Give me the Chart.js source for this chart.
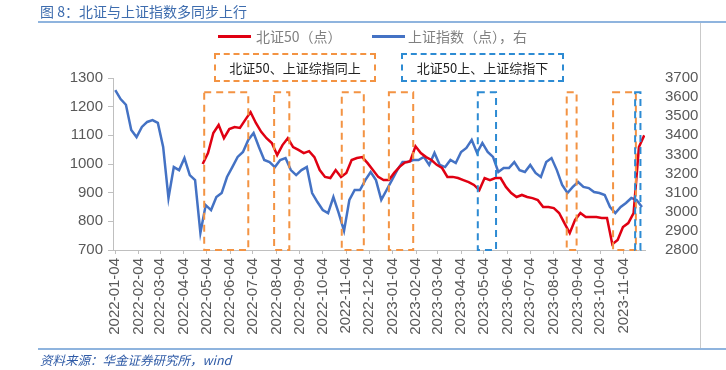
<!DOCTYPE html>
<html>
<head>
<meta charset="utf-8">
<script src="https://cdn.jsdelivr.net/npm/chart.js@4.4.0/dist/chart.umd.min.js"></script>
<style>
  body { margin: 0; background: #fff; }
  #wrap { position: relative; width: 726px; height: 370px; background: #fff; overflow: hidden; }
  #c { position: absolute; left: 0; top: 0; }
  .abs { position: absolute; white-space: nowrap; }
  .cjk { font-family: "Noto Sans CJK SC", "Noto Sans", sans-serif; }
  .tag { position: absolute; box-sizing: border-box; height: 29px; border: 2px dashed; text-align: center;
         font: 13px "Noto Sans CJK SC", sans-serif; line-height: 25px; color: #222; }
</style>
</head>
<body>
<div id="wrap">
  <canvas id="c" width="726" height="370"></canvas>

  <div class="abs cjk" style="left:40px;top:2px;font-size:14px;line-height:18px;color:#3d6cae;">图 8：北证与上证指数多同步上行</div>
  <div class="abs" style="left:38px;top:21px;width:688px;height:2px;background:#8fb4de;"></div>
  <div class="abs" style="left:700px;top:23px;width:1px;height:325px;background:#c9c9c9;"></div>
  <div class="abs" style="left:38px;top:348px;width:688px;height:2px;background:#8fb4de;"></div>
  <div class="abs cjk" style="left:40px;top:352px;font-size:12.5px;line-height:16px;font-style:italic;color:#2e5aa6;">资料来源：华金证券研究所，wind</div>

  <!-- legend -->
  <div class="abs" style="left:218px;top:35px;width:33px;height:3px;background:#e00012;"></div>
  <div class="abs cjk" style="left:256px;top:27px;font-size:14px;line-height:18px;color:#808080;">北证50（点）</div>
  <div class="abs" style="left:372px;top:35px;width:33px;height:3px;background:#4472c4;"></div>
  <div class="abs cjk" style="left:408px;top:27px;font-size:14px;line-height:18px;color:#808080;">上证指数（点），右</div>

  <!-- boxes above the plot -->
  <div class="tag" style="left:214px;top:53px;width:162px;border-color:#f39343;">北证50、上证综指同上</div>
  <div class="tag" style="left:401px;top:53px;width:163px;border-color:#2d8bd3;">北证50上、上证综指下</div>
</div>

<script>
// x positions are calendar days since 2022-01-04
const baseDate = "2022-01-04";

const tickLabels = [
  "2022-01-04", "2022-02-04", "2022-03-04", "2022-04-04", "2022-05-04", "2022-06-04",
  "2022-07-04", "2022-08-04", "2022-09-04", "2022-10-04", "2022-11-04", "2022-12-04",
  "2023-01-04", "2023-02-04", "2023-03-04", "2023-04-04", "2023-05-04", "2023-06-04",
  "2023-07-04", "2023-08-04", "2023-09-04", "2023-10-04", "2023-11-04"
];

// 北证50, weekly from 2022-04-29
const bseStart = "2022-04-29";
const bse50 = [
  1000, 1038, 1108, 1136, 1090, 1122, 1129, 1126, 1154, 1181,
  1143, 1112, 1090, 1073, 1031, 1066, 1090, 1059, 1049, 1038,
  1045, 1024, 979, 955, 951, 979, 955, 969, 1014, 1021,
  1024, 1003, 979, 955, 944, 944, 969, 990, 1005, 1010,
  1062, 1038, 1024, 1014, 997, 986, 955, 955, 951, 944,
  937, 927, 909, 951, 944, 951, 951, 920, 899, 885,
  892, 885, 881, 874, 850, 850, 846, 829, 794, 759,
  805, 829, 815, 815, 815, 812, 812, 720, 735, 780,
  794, 829, 1059, 1100
];

// 上证指数, weekly from 2022-01-04
const shStart = "2022-01-04";
const shIndex = [
  3637, 3590, 3560, 3428, 3391, 3444, 3470, 3480, 3465, 3339,
  3072, 3234, 3218, 3281, 3192, 3166, 2890, 3035, 3009, 3077,
  3098, 3182, 3234, 3287, 3313, 3376, 3412, 3339, 3271, 3260,
  3234, 3271, 3281, 3218, 3192, 3218, 3234, 3098, 3051, 3009,
  2993, 3077, 2993, 2900, 3062, 3114, 3114, 3166, 3208, 3166,
  3062, 3114, 3166, 3218, 3260, 3260, 3271, 3271, 3287, 3245,
  3308, 3245, 3234, 3271, 3255, 3313, 3334, 3376, 3308, 3360,
  3313, 3287, 3208, 3229, 3229, 3260, 3218, 3208, 3245, 3203,
  3182, 3260, 3281, 3218, 3140, 3098, 3130, 3156, 3130, 3124,
  3103, 3098, 3088, 3025, 2993, 3025, 3046, 3072, 3062, 3025
];

// highlighted periods: [from, to, kind]
const periods = [
  ["2022-05-01", "2022-06-28", "same"],
  ["2022-08-01", "2022-08-21", "same"],
  ["2022-10-29", "2022-11-27", "same"],
  ["2022-12-30", "2023-01-31", "same"],
  ["2023-04-26", "2023-05-20", "diff"],
  ["2023-08-21", "2023-09-03", "same"],
  ["2023-10-21", "2023-11-20", "same"],
  ["2023-11-19", "2023-11-26", "diff"]
];

function dayOf(s) {
  const p = s.split("-").map(Number);
  const b = baseDate.split("-").map(Number);
  return (Date.UTC(p[0], p[1] - 1, p[2]) - Date.UTC(b[0], b[1] - 1, b[2])) / 86400000;
}

const tickDays = tickLabels.map(dayOf);
const labelByDay = {};
tickDays.forEach((d, i) => { labelByDay[d] = tickLabels[i]; });

const bsePoints = bse50.map((v, i) => ({ x: dayOf(bseStart) + 7 * i, y: v }));
const shPoints = shIndex.map((v, i) => ({ x: dayOf(shStart) + 7 * i, y: v }));

const gray = "#595959";
const axisGray = "#bfbfbf";

const periodBoxes = {
  id: "periodBoxes",
  afterDatasetsDraw(chart) {
    const ctx = chart.ctx;
    const xs = chart.scales.x, ys = chart.scales.y;
    ctx.save();
    ctx.lineWidth = 2;
    ctx.setLineDash([7, 5]);
    periods.forEach(p => {
      const x1 = xs.getPixelForValue(dayOf(p[0]));
      const x2 = xs.getPixelForValue(dayOf(p[1]));
      const y1 = ys.getPixelForValue(1250);
      const y2 = ys.getPixelForValue(700);
      ctx.strokeStyle = p[2] === "same" ? "#f39343" : "#2d8bd3";
      ctx.strokeRect(x1, y1, x2 - x1, y2 - y1);
    });
    ctx.restore();
  }
};

Chart.defaults.font.family = "'Liberation Sans', Arial, sans-serif";

new Chart(document.getElementById("c"), {
  type: "line",
  data: {
    datasets: [
      {
        label: "北证50（点）",
        data: bsePoints,
        yAxisID: "y",
        borderColor: "#e00012",
        borderWidth: 2.5,
        pointRadius: 0,
        tension: 0
      },
      {
        label: "上证指数（点），右",
        data: shPoints,
        yAxisID: "y1",
        borderColor: "#4472c4",
        borderWidth: 2.5,
        pointRadius: 0,
        tension: 0
      }
    ]
  },
  options: {
    responsive: false,
    animation: false,
    layout: { padding: { top: 78, left: 0, right: 0, bottom: 0 } },
    plugins: { legend: { display: false }, tooltip: { enabled: false } },
    scales: {
      x: {
        type: "linear",
        min: -3,
        max: 697,
        afterBuildTicks: axis => { axis.ticks = tickDays.map(d => ({ value: d })); },
        afterFit: axis => { axis.height = 120; },
        grid: { drawOnChartArea: false, drawTicks: true, tickLength: 4, color: axisGray },
        border: { display: true, color: axisGray },
        ticks: {
          autoSkip: false,
          minRotation: 90,
          maxRotation: 90,
          padding: 4,
          color: gray,
          font: { size: 15 },
          callback: v => labelByDay[v] || ""
        }
      },
      y: {
        position: "left",
        min: 700,
        max: 1300,
        afterFit: axis => { axis.width = 113; },
        grid: { drawOnChartArea: false, tickLength: 5, color: axisGray },
        border: { display: true, color: axisGray },
        ticks: { stepSize: 100, autoSkip: false, padding: 5, color: gray, font: { size: 15 }, callback: v => String(v) }
      },
      y1: {
        position: "right",
        min: 2800,
        max: 3700,
        afterFit: axis => { axis.width = 81; },
        grid: { display: false },
        border: { display: false },
        ticks: { stepSize: 100, autoSkip: false, padding: 12, color: gray, font: { size: 15 }, callback: v => String(v) }
      }
    }
  },
  plugins: [periodBoxes]
});
</script>
</body>
</html>
